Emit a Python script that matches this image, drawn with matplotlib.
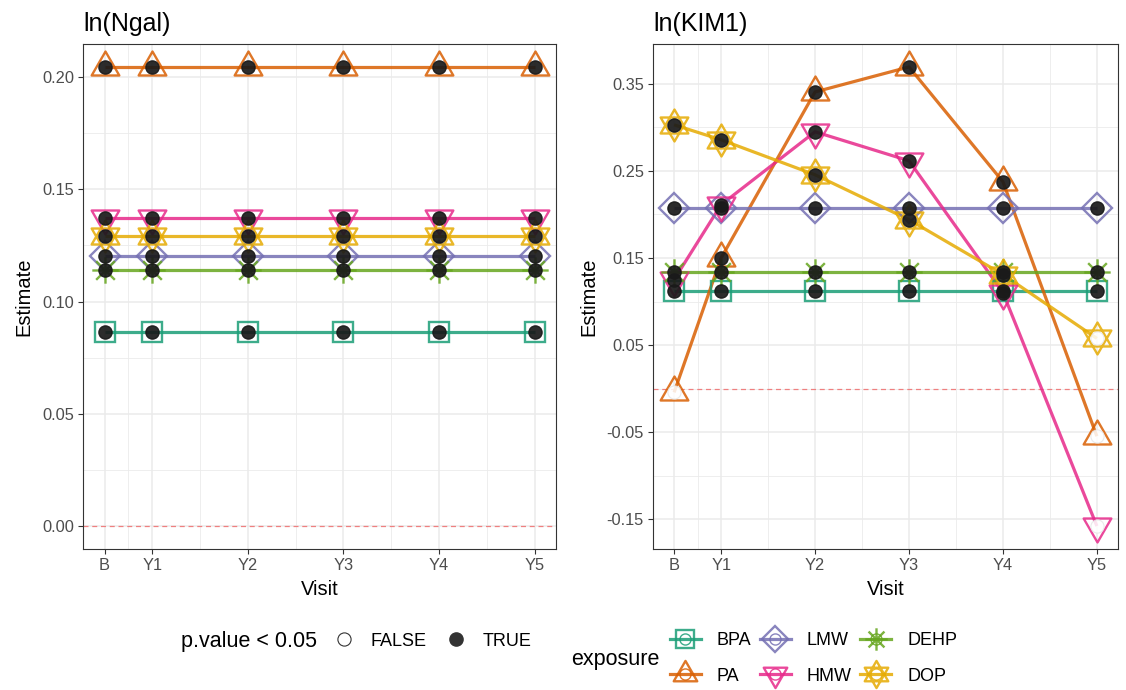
import numpy as np
import matplotlib
matplotlib.use("Agg")
import matplotlib.pyplot as plt
from matplotlib.path import Path
from matplotlib.lines import Line2D
from matplotlib.legend_handler import HandlerTuple
from matplotlib.ticker import FixedLocator

plt.rcParams['font.family'] = ['Liberation Sans', 'DejaVu Sans']

# data
visits = ['B', 'Y1', 'Y2', 'Y3', 'Y4', 'Y5']
visit_x = [0, 1, 3, 5, 7, 9]
exposures = ['BPA', 'PA', 'LMW', 'HMW', 'DEHP', 'DOP']

# ln(Ngal): estimate is constant over visits
ngal_bpa = [0.0864] * 6
ngal_pa = [0.2045] * 6
ngal_lmw = [0.1203] * 6
ngal_hmw = [0.1372] * 6
ngal_dehp = [0.1140] * 6
ngal_dop = [0.1292] * 6
ngal_sig = [[True] * 6 for _ in range(6)]

# ln(KIM1)
kim1_bpa = [0.1115] * 6
kim1_pa = [-0.0044, 0.150, 0.3408, 0.3695, 0.2376, -0.0548]
kim1_lmw = [0.2078] * 6
kim1_hmw = [0.1252, 0.2112, 0.2950, 0.2617, 0.1103, -0.1580]
kim1_dehp = [0.1344] * 6
kim1_dop = [0.3030, 0.2858, 0.2456, 0.1940, 0.1310, 0.0576]
kim1_sig = [
    [True] * 6,
    [False, True, True, True, True, False],
    [True] * 6,
    [True, True, True, True, True, False],
    [True] * 6,
    [True, True, True, True, True, False],
]

colors = ['#1B9E77', '#D95F02', '#7570B3', '#E7298A', '#66A61E', '#E6AB02']

# ggplot-like shapes
s3 = np.sqrt(3) / 2
tri_up = Path([(0, 1), (-s3, -0.5), (s3, -0.5), (0, 1)],
              [Path.MOVETO, Path.LINETO, Path.LINETO, Path.CLOSEPOLY])
tri_down = Path([(0, -1), (-s3, 0.5), (s3, 0.5), (0, -1)],
                [Path.MOVETO, Path.LINETO, Path.LINETO, Path.CLOSEPOLY])
star_david = Path([(0, 1), (-s3, -0.5), (s3, -0.5), (0, 1),
                   (0, -1), (-s3, 0.5), (s3, 0.5), (0, -1)],
                  [Path.MOVETO, Path.LINETO, Path.LINETO, Path.CLOSEPOLY] * 2)
d = np.sqrt(0.5)
asterisk = Path([(-1, 0), (1, 0), (0, -1), (0, 1), (-d, -d), (d, d), (-d, d), (d, -d)],
                [Path.MOVETO, Path.LINETO] * 4)

markers = ['s', tri_up, 'D', tri_down, asterisk, star_david]
msizes = [15, 23, 15.5, 23, 19, 23]

ALPHA = 0.85


def draw_panel(ax, title, series, sig, major, minor):
    for i, vals in enumerate(series):
        c = colors[i]
        ax.plot(visit_x, vals, color=c, lw=2.3, alpha=ALPHA, zorder=3,
                solid_capstyle='butt')
        ax.plot(visit_x, vals, ls='none', marker=markers[i], ms=msizes[i],
                mfc='none', mec=c, mew=1.7, alpha=ALPHA, zorder=4)
    for i, vals in enumerate(series):
        for x, v, s in zip(visit_x, vals, sig[i]):
            if s:
                ax.plot(x, v, 'o', ms=9.5, mfc='#1a1a1a', mec='#1a1a1a',
                        alpha=0.92, zorder=6)
            else:
                ax.plot(x, v, 'o', ms=9.5, mfc='white', mec='#e6e6e6',
                        mew=0.8, alpha=0.85, zorder=6)
    ax.axhline(0, color='#ef8080', lw=0.9, ls=(0, (4, 3)), zorder=2.5)

    allv = np.concatenate([np.array(v) for v in series] + [[0.0]])
    lo, hi = allv.min(), allv.max()
    pad = 0.05 * (hi - lo)
    ax.set_ylim(lo - pad, hi + pad)
    ax.set_xlim(-0.45, 9.45)

    ax.set_xticks(visit_x)
    ax.set_xticklabels(visits)
    ax.xaxis.set_minor_locator(FixedLocator([0.5, 2, 4, 6, 8]))
    ax.set_yticks(major)
    ax.set_yticklabels(['%.2f' % t for t in major])
    ax.yaxis.set_minor_locator(FixedLocator(minor))

    ax.grid(which='major', color='#ebebeb', lw=1.1, zorder=0)
    ax.grid(which='minor', color='#ebebeb', lw=0.6, zorder=0)
    ax.set_axisbelow(True)
    for sp in ax.spines.values():
        sp.set_color('#333333')
        sp.set_linewidth(0.8)
    ax.tick_params(which='major', length=3.5, width=0.8, color='#333333',
                   labelcolor='#4d4d4d', labelsize=11.8, pad=3)
    ax.tick_params(which='minor', length=0)
    ax.set_xlabel('Visit', fontsize=14.5, labelpad=5)
    ax.set_ylabel('Estimate', fontsize=14.5, labelpad=6)
    ax.set_title(title, loc='left', fontsize=18, pad=9)


W, H = 1126, 690
fig = plt.figure(figsize=(W / 100, H / 100), dpi=100)
ax1 = fig.add_axes([83 / W, 1 - 549 / H, (556 - 83) / W, (549 - 44) / H])
ax2 = fig.add_axes([653 / W, 1 - 549 / H, (1118 - 653) / W, (549 - 44) / H])

draw_panel(ax1, 'ln(Ngal)',
           [ngal_bpa, ngal_pa, ngal_lmw, ngal_hmw, ngal_dehp, ngal_dop],
           ngal_sig,
           [0.0, 0.05, 0.10, 0.15, 0.20],
           [0.025, 0.075, 0.125, 0.175])
draw_panel(ax2, 'ln(KIM1)',
           [kim1_bpa, kim1_pa, kim1_lmw, kim1_hmw, kim1_dehp, kim1_dop],
           kim1_sig,
           [-0.15, -0.05, 0.05, 0.15, 0.25, 0.35],
           [-0.10, 0.0, 0.10, 0.20, 0.30])

# p.value legend
fig.text(181 / W, 1 - 641 / H, 'p.value < 0.05', fontsize=15.5,
         va='center', ha='left')
p_handles = [
    Line2D([], [], ls='none', marker='o', ms=9.5, mfc='white', mec='#333333', mew=0.8),
    Line2D([], [], ls='none', marker='o', ms=9.5, mfc='#333333', mec='#333333'),
]
fig.legend(p_handles, ['FALSE', 'TRUE'], ncol=2, loc='center left',
           bbox_to_anchor=(333 / W, 1 - 641 / H), frameon=False,
           fontsize=13, handlelength=1.2, handletextpad=0.9,
           columnspacing=1.0, borderpad=0, borderaxespad=0)

# exposure legend
fig.text(571 / W, 1 - 659 / H, 'exposure', fontsize=15.5,
         va='center', ha='left')
e_handles = []
for i in range(6):
    main = Line2D([], [], color=colors[i], lw=2.3, alpha=ALPHA,
                  marker=markers[i], ms=msizes[i] * 0.85, mfc='none',
                  mec=colors[i], mew=1.7)
    circ = Line2D([], [], ls='none', marker='o', ms=8, mfc='none',
                  mec=colors[i], mew=1.0, alpha=ALPHA)
    e_handles.append((main, circ))
fig.legend(e_handles, exposures, ncol=3, loc='center left',
           bbox_to_anchor=(670 / W, 1 - 658.5 / H), frameon=False,
           fontsize=13, handlelength=1.7, handletextpad=0.9,
           columnspacing=0.47, labelspacing=1.0, borderpad=0,
           borderaxespad=0, handler_map={tuple: HandlerTuple(ndivide=1)})

fig.savefig('out.png', dpi=100)
